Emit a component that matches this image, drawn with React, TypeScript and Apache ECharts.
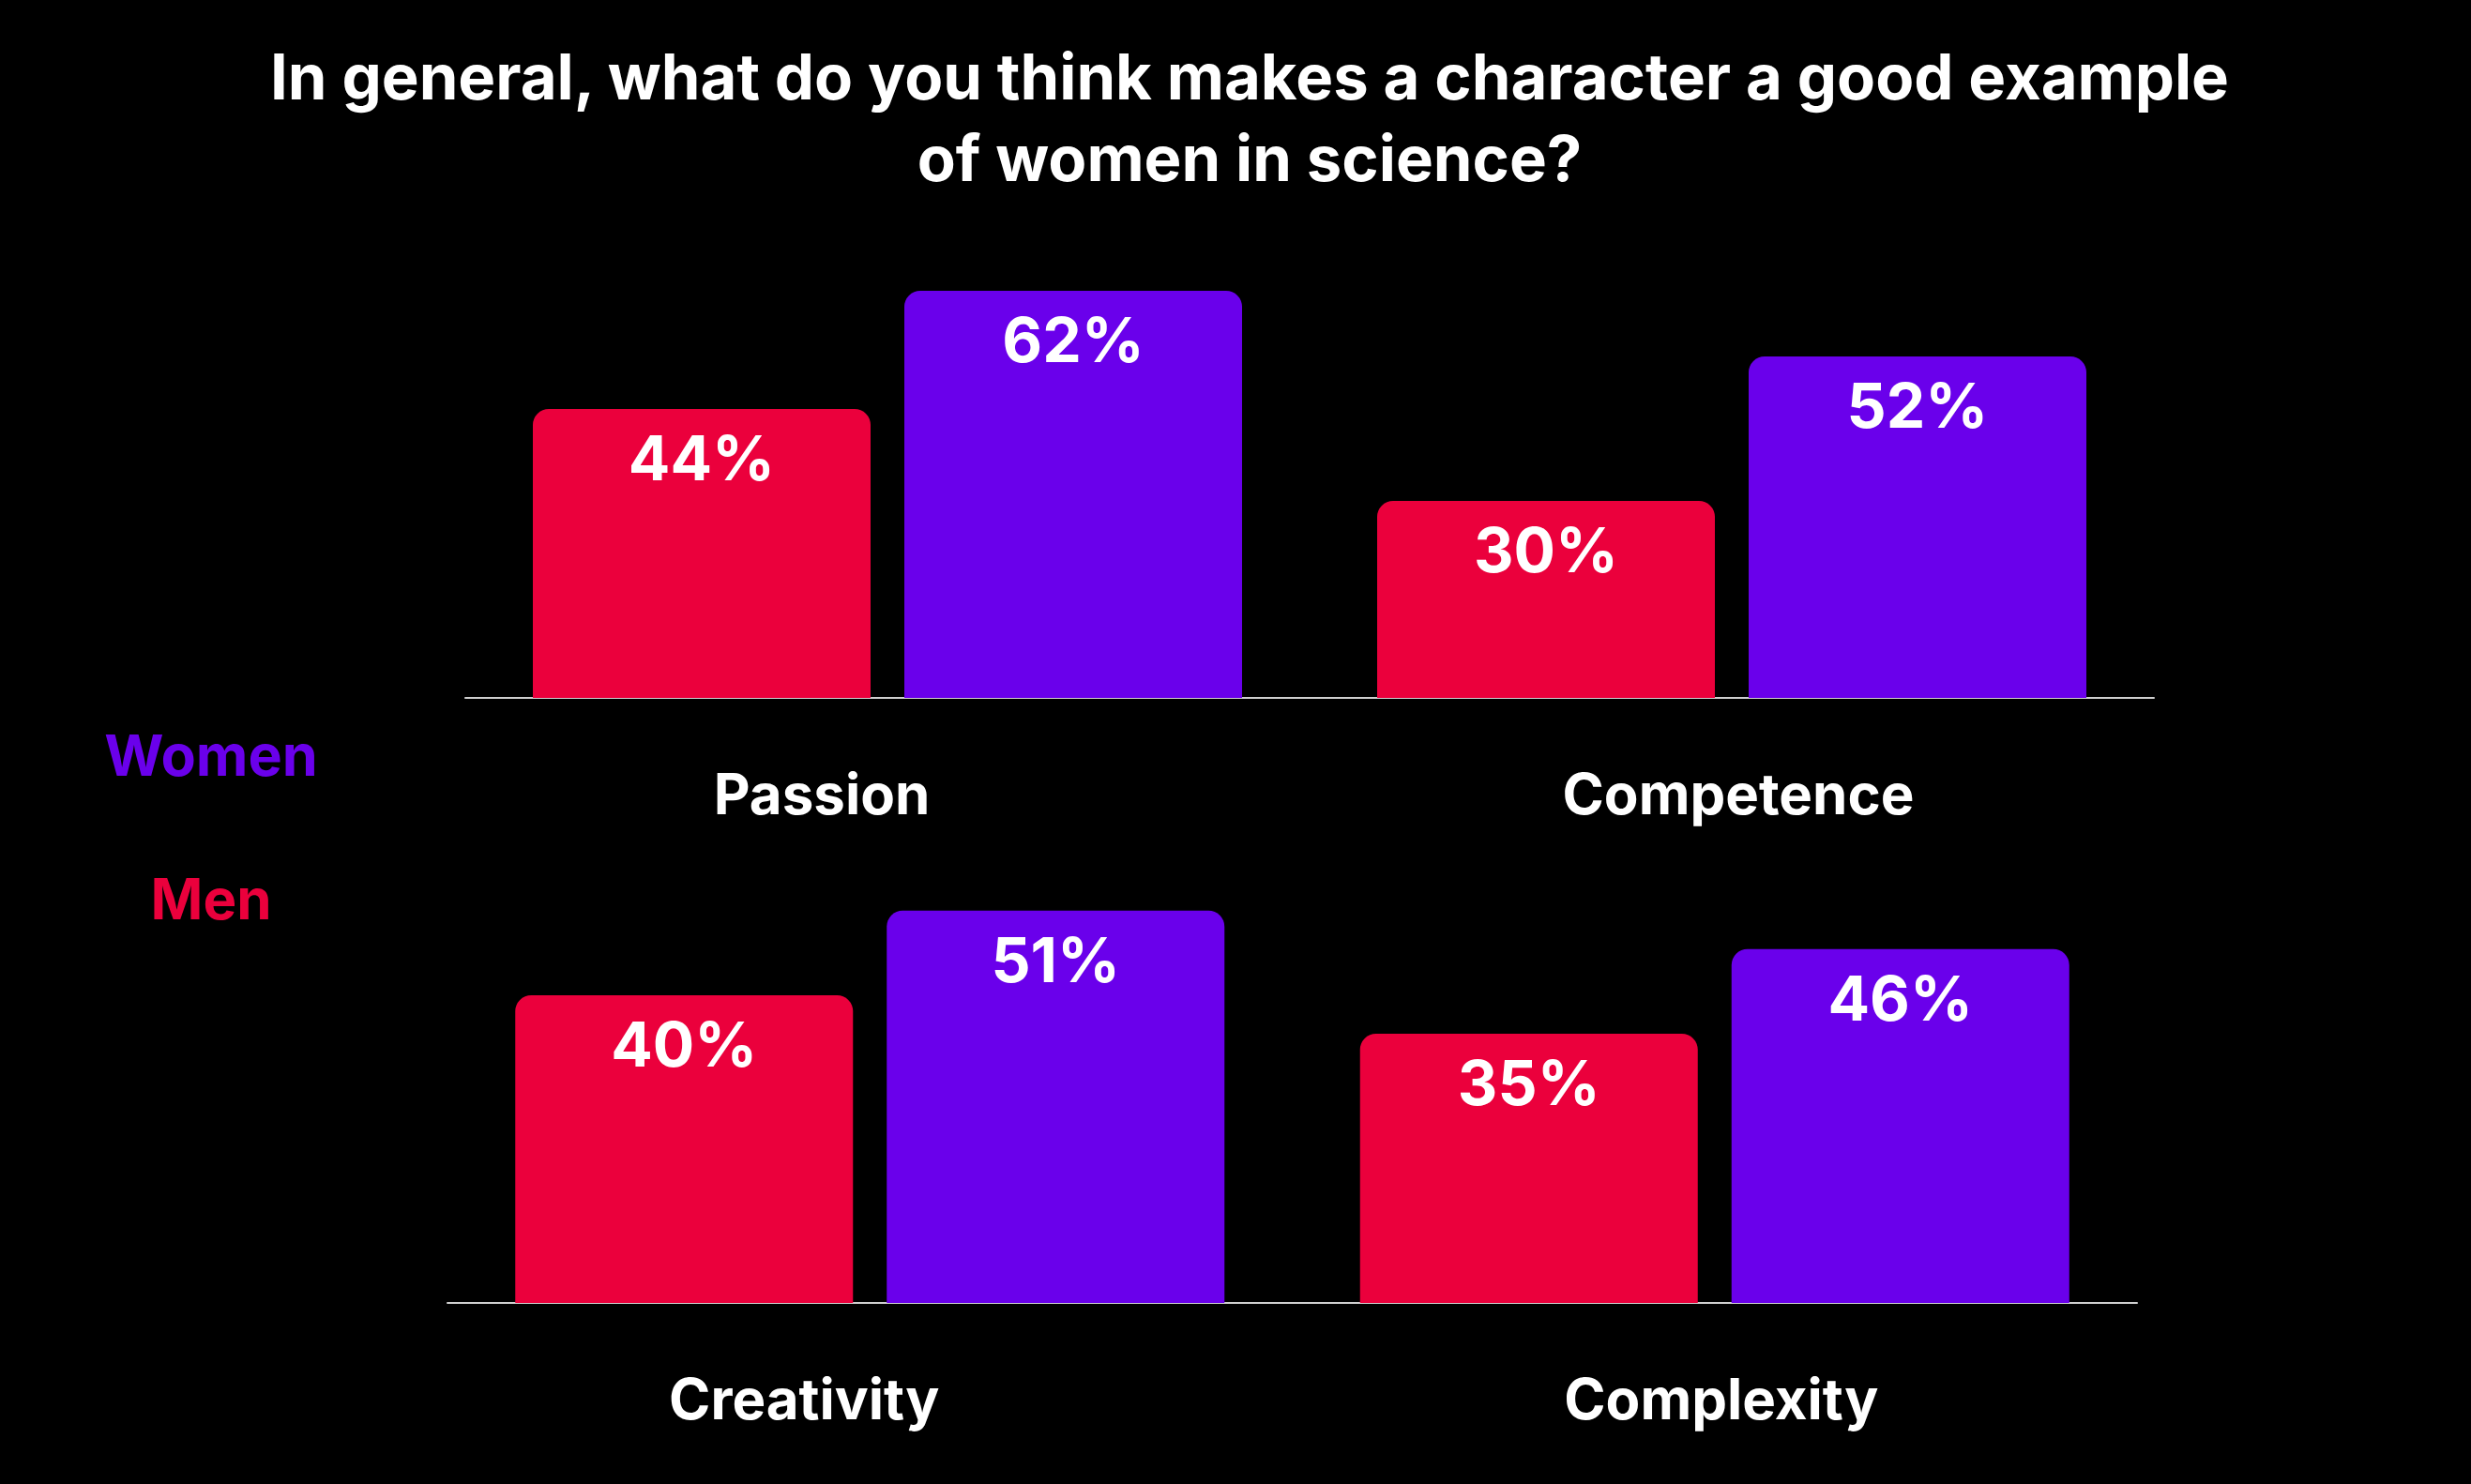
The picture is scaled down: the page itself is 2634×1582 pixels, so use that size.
import React, { useEffect, useRef } from "react";
import * as echarts from "echarts";

const titleLines = [
  "In general, what do you think makes a character a good example",
  "of women in science?",
];
const seriesNames = ["Men", "Women"];
const categoriesTop = ["Passion", "Competence"];
const categoriesBottom = ["Creativity", "Complexity"];
const menTop = [44, 30];
const womenTop = [62, 52];
const menBottom = [40, 35];
const womenBottom = [51, 46];
// horizontal shift of each category label (px, negative = left)
const labelShiftTop = [-70, 7];
const labelShiftBottom = [-70, 7];

const RED = "#EB003C";
const PURPLE = "#6A00EB";
const FONT = "Inter, 'Noto Sans', sans-serif";

export default function App() {
  const ref = useRef<HTMLDivElement>(null);

  useEffect(() => {
    if (!ref.current) return;
    const chart = echarts.init(ref.current, null, { renderer: "svg" });

    const makeX = (cats: string[], shifts: number[], gridIndex: number) => ({
      type: "category",
      gridIndex,
      data: cats,
      axisTick: { show: false },
      axisLine: { show: true, lineStyle: { color: "#cfcfcf", width: 2 } },
      axisLabel: {
        show: true,
        margin: 72,
        interval: 0,
        formatter: (v: string) => {
          const i = cats.indexOf(v);
          return `{s${i}|${v}}`;
        },
        rich: Object.fromEntries(
          shifts.map((s, i) => [
            `s${i}`,
            {
              color: "#ffffff",
              fontSize: 60,
              fontWeight: 700,
              fontFamily: FONT,
              padding: s < 0 ? [0, -2 * s, 0, 0] : [0, 0, 0, 2 * s],
            },
          ])
        ),
      },
    });

    const makeY = (max: number, gridIndex: number) => ({
      type: "value",
      gridIndex,
      min: 0,
      max,
      show: false,
      splitLine: { show: false },
    });

    const barLabel = {
      show: true,
      position: "insideTop",
      distance: 19,
      formatter: "{c}%",
      color: "#ffffff",
      fontSize: 66,
      fontWeight: 700,
      fontFamily: FONT,
    };

    const makeBar = (name: string, data: number[], color: string, idx: number) => ({
      type: "bar",
      name,
      xAxisIndex: idx,
      yAxisIndex: idx,
      data,
      barWidth: 360,
      barGap: "10%",
      itemStyle: { color, borderRadius: [17, 17, 0, 0] },
      label: barLabel,
    });

    chart.setOption({
      animation: false,
      backgroundColor: "#000000",
      title: {
        text: titleLines.join("\n"),
        left: 1327,
        top: 33,
        textAlign: "center",
        textStyle: {
          color: "#ffffff",
          fontSize: 67,
          fontWeight: 700,
          fontFamily: FONT,
          lineHeight: 87,
        },
      },
      grid: [
        { left: 496, width: 1800, top: 254, height: 490 },
        { left: 477, width: 1801, top: 897, height: 492 },
      ],
      xAxis: [makeX(categoriesTop, labelShiftTop, 0), makeX(categoriesBottom, labelShiftBottom, 1)],
      yAxis: [makeY(70, 0), makeY(60, 1)],
      series: [
        makeBar(seriesNames[0], menTop, RED, 0),
        makeBar(seriesNames[1], womenTop, PURPLE, 0),
        makeBar(seriesNames[0], menBottom, RED, 1),
        makeBar(seriesNames[1], womenBottom, PURPLE, 1),
      ],
      graphic: [
        {
          type: "text",
          x: 225,
          y: 805,
          style: {
            text: seriesNames[1],
            fill: PURPLE,
            fontSize: 61,
            fontWeight: 700,
            fontFamily: FONT,
            textAlign: "center",
            textVerticalAlign: "middle",
          },
        },
        {
          type: "text",
          x: 225,
          y: 958,
          style: {
            text: seriesNames[0],
            fill: RED,
            fontSize: 60,
            fontWeight: 700,
            fontFamily: FONT,
            textAlign: "center",
            textVerticalAlign: "middle",
          },
        },
      ],
    });

    return () => chart.dispose();
  }, []);

  return (
    <div
      ref={ref}
      style={{ position: "fixed", left: 0, top: 0, width: 2634, height: 1582, background: "#000" }}
    />
  );
}
